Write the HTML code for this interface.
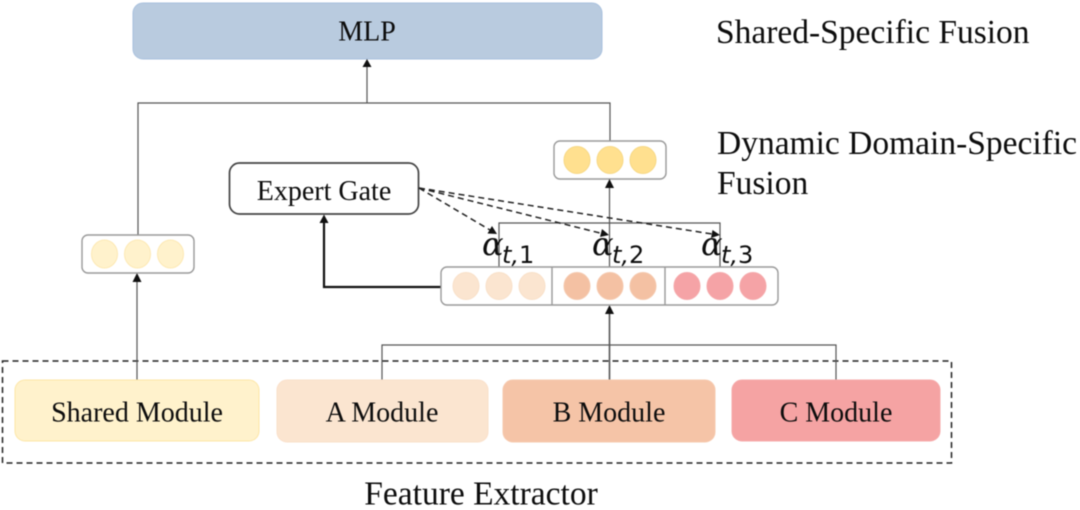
<!DOCTYPE html>
<html>
<head>
<meta charset="utf-8">
<style>
html,body{margin:0;padding:0;background:#fff;width:1080px;height:510px;overflow:hidden}
svg{display:block;filter:blur(0.45px)}
text{font-family:"Liberation Serif",serif;fill:#0d0d0d}
.l{font-size:28px;text-anchor:middle}
.h{font-size:33.5px}
.a{font-family:"DejaVu Serif","Liberation Serif",serif;font-size:32px;font-style:italic}
.s{font-family:"DejaVu Sans","Liberation Sans",sans-serif;font-size:24px;font-style:italic}
.s tspan{font-style:normal}
.w{fill:none;stroke:#555;stroke-width:1.2}
.bx{fill:#fff;stroke:#999;stroke-width:1.4}
.d{stroke:#222;stroke-width:1.5;stroke-dasharray:6 4;fill:none}
</style>
</head>
<body>
<svg width="1080" height="510" viewBox="0 0 1080 510" xmlns="http://www.w3.org/2000/svg">
<rect x="133" y="3" width="469" height="56" rx="10" fill="#b9cbdf" stroke="#a9c1de"/>
<text class="l" x="367" y="40.500">MLP</text>

<path class="w" d="M138 235V103H610V141"/>
<path class="w" d="M367 103V66"/>
<polygon points="367,59 362.5,67 371.5,67" fill="#111"/>

<rect x="2.500" y="361" width="949" height="102" fill="none" stroke="#222" stroke-width="1.500" stroke-dasharray="6 4"/>

<path class="w" d="M137 380V281"/>
<polygon points="137,273 132.5,282 141.500,282" fill="#111"/>
<path class="w" d="M382 380V345H836V380"/>
<path class="w" d="M609.500 380V312" style="stroke-width:1.6"/>
<polygon points="609.500,305 605,314 614,314" fill="#111"/>

<rect x="15" y="380" width="244" height="61" rx="10" fill="#fff2cc" stroke="#fde6a6"/>
<rect x="277" y="380" width="211" height="62" rx="10" fill="#fbe5d0" stroke="#fae0ca"/>
<rect x="503" y="380" width="212" height="62" rx="10" fill="#f5c4a7" stroke="#f6c9ae"/>
<rect x="732" y="380" width="208" height="61" rx="10" fill="#f5a3a3" stroke="#f5a9a9"/>
<text class="l" x="137" y="421.500">Shared Module</text>
<text class="l" x="382" y="421.500">A Module</text>
<text class="l" x="609" y="421.500">B Module</text>
<text class="l" x="836" y="421.500">C Module</text>
<text class="h" x="481" y="504.500" text-anchor="middle">Feature Extractor</text>

<rect class="bx" x="82" y="235" width="112" height="38" rx="6"/>
<g fill="#fff2cc" stroke="#fde9b4">
<ellipse cx="104.500" cy="254" rx="13" ry="14"/><ellipse cx="137.500" cy="254" rx="13" ry="14"/><ellipse cx="170.500" cy="254" rx="13" ry="14"/>
</g>

<rect class="bx" x="554" y="141" width="112" height="38" rx="6"/>
<g fill="#ffe08f" stroke="#f7d884">
<ellipse cx="577" cy="160" rx="13" ry="13.500"/><ellipse cx="610" cy="160" rx="13" ry="13.500"/><ellipse cx="643" cy="160" rx="13" ry="13.500"/>
</g>
<path class="w" d="M609.500 267V187"/>
<polygon points="609.500,179 605,188 614,188" fill="#111"/>
<path class="w" d="M499 267V223H720V267"/>

<rect x="229.500" y="163" width="189" height="51" rx="10" fill="#fff" stroke="#444" stroke-width="1.700"/>
<text class="l" x="324" y="200">Expert Gate</text>

<path d="M441 287H324V222" fill="none" stroke="#111" stroke-width="2.200"/>
<polygon points="324,214.500 319.500,223 328.500,223" fill="#111"/>

<rect class="bx" x="441" y="267" width="337" height="38" rx="6"/>
<path d="M552 267V305M665 267V305" stroke="#999" stroke-width="1.400"/>
<g fill="#fbe5d0" stroke="#f9e0c8">
<ellipse cx="466" cy="286" rx="13" ry="13.500"/><ellipse cx="499" cy="286" rx="13" ry="13.500"/><ellipse cx="532" cy="286" rx="13" ry="13.500"/>
</g>
<g fill="#f4c1a3" stroke="#f5c8ad">
<ellipse cx="577" cy="286" rx="13" ry="13.500"/><ellipse cx="610" cy="286" rx="13" ry="13.500"/><ellipse cx="643" cy="286" rx="13" ry="13.500"/>
</g>
<g fill="#f5a3a6" stroke="#f5a8aa">
<ellipse cx="687" cy="286" rx="13" ry="13.500"/><ellipse cx="720" cy="286" rx="13" ry="13.500"/><ellipse cx="753" cy="286" rx="13" ry="13.500"/>
</g>

<path class="d" d="M419 188L490 230"/>
<path class="d" d="M419 188L600 233"/>
<path class="d" d="M419 188L712 234"/>
<polygon points="497,234 487.500,233.500 492,226" fill="#111"/>
<polygon points="609,235 600,237 602,229" fill="#111"/>
<polygon points="720,235 711,238 712.500,230" fill="#111"/>

<text class="a" x="482" y="255">α</text><text class="s" x="502" y="263">t,<tspan>1</tspan></text>
<text class="a" x="592" y="255">α</text><text class="s" x="612" y="263">t,<tspan>2</tspan></text>
<text class="a" x="701" y="255">α</text><text class="s" x="721" y="263">t,<tspan>3</tspan></text>

<text class="h" x="716" y="42.800">Shared-Specific Fusion</text>
<text class="h" x="717" y="153.800">Dynamic Domain-Specific</text>
<text class="h" x="717" y="193.800">Fusion</text>
</svg>
</body>
</html>
